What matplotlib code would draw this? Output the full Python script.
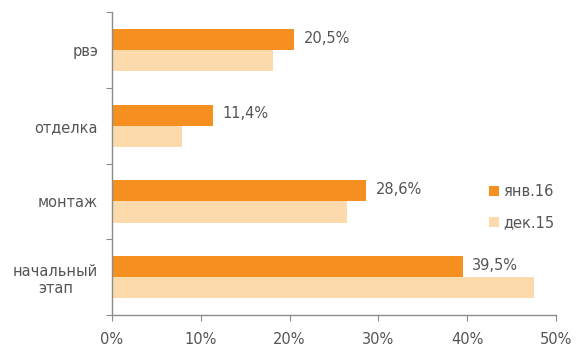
import matplotlib.pyplot as plt
import numpy as np
from matplotlib.ticker import FuncFormatter

categories = ["рвэ", "отделка", "монтаж", "начальный\nэтап"]
jan16 = [20.5, 11.4, 28.6, 39.5]
dec15 = [18.1, 7.9, 26.5, 47.5]
jan16_labels = ["20,5%", "11,4%", "28,6%", "39,5%"]
series_names = ["янв.16", "дек.15"]

orange = "#F58F1F"
light = "#FCDAAB"
text_col = "#555555"
axis_col = "#8C8C8C"
fs = 10.5

fig = plt.figure(figsize=(5.82, 3.58), dpi=100)
ax = fig.add_axes([0.1924, 0.12, 0.7626, 0.846])

y = np.arange(len(categories))
h = 0.28
ax.barh(y - h / 2, jan16, h, color=orange, label=series_names[0])
ax.barh(y + h / 2, dec15, h, color=light, label=series_names[1])

# value labels only for the January series
for yi, v, lab in zip(y, jan16, jan16_labels):
    ax.annotate(lab, (v, yi - h / 2), xytext=(7, 1), textcoords="offset points",
                ha="left", va="center", fontsize=fs, color=text_col)

ax.set_xlim(0, 50)
ax.set_ylim(len(categories) - 0.5, -0.5)
ax.set_xticks(np.arange(0, 51, 10))
ax.xaxis.set_major_formatter(FuncFormatter(lambda v, p: f"{int(v)}%"))
ax.set_yticks(np.arange(-0.5, len(categories), 1.0), minor=False)
ax.set_yticklabels([])
ax.set_yticks(y, minor=True)
ax.set_yticklabels(categories, minor=True)
ax.tick_params(axis="y", which="minor", length=0, pad=10, labelsize=fs, labelcolor=text_col)
ax.tick_params(axis="y", which="major", length=4, color=axis_col, direction="out")
ax.tick_params(axis="x", length=4, color=axis_col, labelsize=fs, labelcolor=text_col, pad=8)
for lbl in ax.get_yticklabels(minor=True):
    lbl.set_multialignment("center")

for s in ["top", "right"]:
    ax.spines[s].set_visible(False)
for s in ["left", "bottom"]:
    ax.spines[s].set_color(axis_col)
    ax.spines[s].set_linewidth(1.0)

ax.legend(loc="upper left", bbox_to_anchor=(0.82, 0.475), frameon=False,
          fontsize=fs, labelcolor=text_col, handlelength=0.7, handleheight=0.7,
          handletextpad=0.3, labelspacing=1.1)

fig.savefig("out.png", dpi=100)
